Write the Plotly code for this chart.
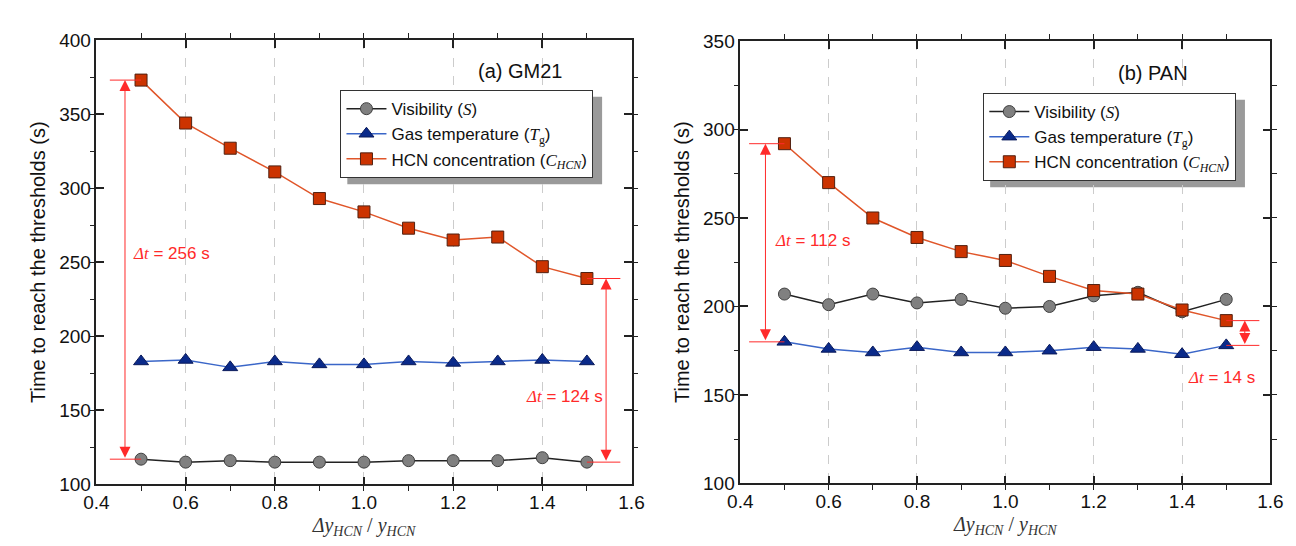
import plotly.graph_objects as go

x_vals = [0.5, 0.6, 0.7, 0.8, 0.9, 1.0, 1.1, 1.2, 1.3, 1.4, 1.5]

# (a) GM21
gm_S = [117, 115, 116, 115, 115, 115, 116, 116, 116, 118, 115]
gm_Tg = [183, 184, 179, 183, 181, 181, 183, 182, 183, 184, 183]
gm_HCN = [373, 344, 327, 311, 293, 284, 273, 265, 267, 247, 239]

# (b) PAN
pan_S = [207, 201, 207, 202, 204, 199, 200, 206, 208, 197, 204]
pan_Tg = [180, 176, 174, 177, 174, 174, 175, 177, 176, 173, 178]
pan_HCN = [292, 270, 250, 239, 231, 226, 217, 209, 207, 198, 192]

names = ["Visibility (<span style='font-family:Liberation Serif'><i>S</i></span>)",
         "Gas temperature (<span style='font-family:Liberation Serif'><i>T</i><sub>g</sub></span>)",
         "HCN concentration (<span style='font-family:Liberation Serif'><i>C</i><sub><i>HCN</i></sub></span>)"]

SANS = "Liberation Sans, Arial, sans-serif"
SERIF = "Liberation Serif, Times New Roman, serif"
RED = "#ff2a2a"

styles = [
    dict(line=dict(color="#222222", width=1.5),
         marker=dict(symbol="circle", size=12, color="#808080", line=dict(color="#404040", width=1))),
    dict(line=dict(color="#3a66c8", width=1.5),
         marker=dict(symbol="triangle-up", size=13, color="#0a2a8a", line=dict(color="#0a1a5a", width=1))),
    dict(line=dict(color="#e0562a", width=1.5),
         marker=dict(symbol="square", size=12, color="#cc3300", line=dict(color="#502010", width=1))),
]

fig = go.Figure()

panels = [
    ("x", "y", "legend", [gm_S, gm_Tg, gm_HCN]),
    ("x2", "y2", "legend2", [pan_S, pan_Tg, pan_HCN]),
]
for xa, ya, lg, series in panels:
    for nm, st, ys in zip(names, styles, series):
        fig.add_trace(go.Scatter(x=x_vals, y=ys, mode="lines+markers", name=nm,
                                 xaxis=xa, yaxis=ya, legend=lg, **st))

axis_common = dict(
    showline=True, linecolor="#222222", linewidth=1.5, mirror="ticks",
    ticks="inside", ticklen=8, tickwidth=1.5, tickcolor="#222222",
    tickfont=dict(family=SANS, size=19, color="#111111"),
    zeroline=False,
)

xa_common = dict(axis_common, range=[0.4, 1.6], dtick=0.2, tick0=0.4, tickformat=".1f",
                 showgrid=True, gridcolor="#cccccc", griddash="dash", gridwidth=1,
                 minor=dict(dtick=0.1, tick0=0.4, ticklen=5, tickcolor="#222222", tickwidth=1.2, showgrid=False),
                 title=dict(text="<i>Δy</i><sub><i>HCN</i></sub> / <i>y</i><sub><i>HCN</i></sub>",
                            font=dict(family=SERIF, size=20, color="#333333"), standoff=6))

ya_title = dict(text="Time to reach the thresholds (s)", font=dict(family=SANS, size=20, color="#111111"),
                standoff=8)

legend_common = dict(xanchor="left", yanchor="top",
                     bgcolor="white", bordercolor="#333333", borderwidth=1,
                     font=dict(family=SANS, size=17, color="#111111"),
                     tracegroupgap=0, itemwidth=40)

fig.update_layout(
    width=1296, height=546,
    margin=dict(l=0, r=0, t=0, b=0),
    paper_bgcolor="white", plot_bgcolor="white",
    showlegend=True,
    xaxis=dict(xa_common, domain=[77/1296, 623/1296], anchor="y"),
    yaxis=dict(axis_common, range=[100, 400], dtick=50, showgrid=False,
               minor=dict(dtick=25, ticklen=5, tickcolor="#222222", tickwidth=1.2),
               domain=[1-485/546, 1-23/546], anchor="x", title=ya_title),
    xaxis2=dict(xa_common, domain=[734/1296, 1275/1296], anchor="y2"),
    yaxis2=dict(axis_common, range=[100, 350], dtick=50, showgrid=False,
                minor=dict(dtick=25, ticklen=5, tickcolor="#222222", tickwidth=1.2),
                domain=[1-484/546, 1-24/546], anchor="x2", title=ya_title),
    legend=dict(legend_common, x=326/1296, y=1-75/546),
    legend2=dict(legend_common, x=982/1296, y=1-78/546),
)

shapes = []
# legend shadows (paper coords)
shapes.append(dict(type="rect", xref="paper", yref="paper", layer="below",
                   x0=333/1296, x1=593/1296, y0=1-173/546, y1=1-82/546,
                   fillcolor="#9a9a9a", line=dict(width=0)))
shapes.append(dict(type="rect", xref="paper", yref="paper", layer="below",
                   x0=989/1296, x1=1249/1296, y0=1-176/546, y1=1-85/546,
                   fillcolor="#9a9a9a", line=dict(width=0)))

def hline(xr, yr, x0, x1, y):
    shapes.append(dict(type="line", xref=xr, yref=yr, x0=x0, x1=x1, y0=y, y1=y,
                       line=dict(color=RED, width=1)))

# panel (a) guide lines
hline("x", "y", 0.43, 0.5, gm_HCN[0])
hline("x", "y", 0.43, 0.5, gm_S[0])
hline("x", "y", 1.5, 1.575, gm_HCN[-1])
hline("x", "y", 1.5, 1.575, gm_S[-1])
# panel (b) guide lines
hline("x2", "y2", 0.42, 0.5, pan_HCN[0])
hline("x2", "y2", 0.42, 0.5, pan_Tg[0])
hline("x2", "y2", 1.5, 1.575, pan_HCN[-1])
hline("x2", "y2", 1.5, 1.575, pan_Tg[-1])

annotations = []

def darrow(xr, yr, x, y0, y1):
    annotations.append(dict(xref=xr, yref=yr, x=x, y=y1, ax=x, ay=y0, axref=xr, ayref=yr,
                            text="", showarrow=True, arrowhead=2, startarrowhead=2,
                            arrowside="end+start", arrowsize=2.2, startarrowsize=2.2,
                            arrowwidth=1, arrowcolor=RED, standoff=0, startstandoff=0))

darrow("x", "y", 0.464, gm_S[0], gm_HCN[0])
darrow("x", "y", 1.543, gm_S[-1], gm_HCN[-1])
darrow("x2", "y2", 0.457, pan_Tg[0], pan_HCN[0])
darrow("x2", "y2", 1.542, pan_Tg[-1], pan_HCN[-1])

def dt_text(xr, yr, x, y, val, anchor):
    annotations.append(dict(xref=xr, yref=yr, x=x, y=y, xanchor=anchor, yanchor="middle",
                            showarrow=False,
                            text=f"<span style='font-family:Liberation Serif'><i>Δt</i></span> = {val} s",
                            font=dict(family=SANS, size=17, color=RED)))

dt_text("x", "y", 0.478, 256, gm_HCN[0] - gm_S[0], "left")
dt_text("x", "y", 1.54, 159, gm_HCN[-1] - gm_S[-1], "right")
dt_text("x2", "y2", 0.474, 237, pan_HCN[0] - pan_Tg[0], "left")
dt_text("x2", "y2", 1.57, 160, pan_HCN[-1] - pan_Tg[-1], "right")

annotations.append(dict(xref="x", yref="y", x=1.35, y=379, showarrow=False, text="(a) GM21",
                        font=dict(family=SANS, size=20, color="#111111")))
annotations.append(dict(xref="x2", yref="y2", x=1.335, y=332, showarrow=False, text="(b) PAN",
                        font=dict(family=SANS, size=20, color="#111111")))

fig.update_layout(shapes=shapes, annotations=annotations)

fig.write_html("out.html")
